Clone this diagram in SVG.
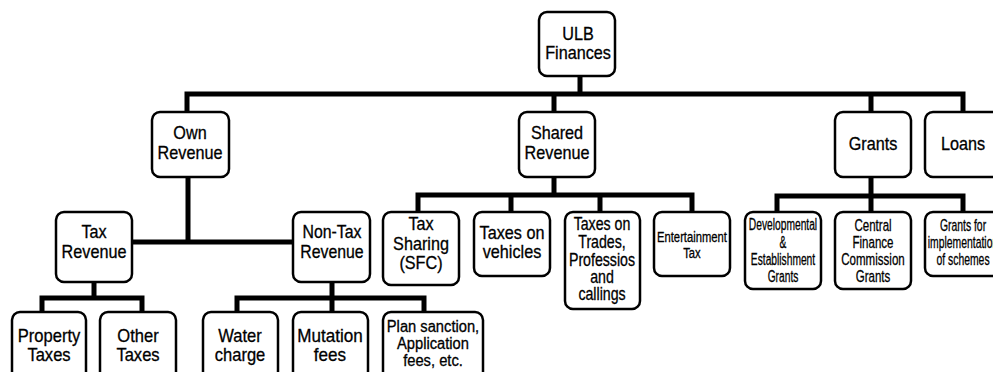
<svg xmlns="http://www.w3.org/2000/svg" width="993" height="372" viewBox="0 0 993 372">
<style>
.b{fill:#fff;stroke:#000;stroke-width:2.5}
.c{fill:none;stroke:#000;stroke-width:5;stroke-linejoin:miter}
text{font-family:"Liberation Sans",Arial,sans-serif;font-size:18px;text-anchor:middle;fill:#000;stroke:#000;stroke-width:0.3}
.m{font-size:17.5px}
.s{font-size:17px}
.xs{font-size:16px}
.t{font-size:15px}
</style>
<rect width="993" height="372" fill="#fff"/>
<g id="connectors">
<path class="c" d="M580 76V94M187 112V94H963V112M554 94V112M871 94V112"/>
<path class="c" d="M188 177V242M132 242H293"/>
<path class="c" d="M94 282V298M42 312V298H142V312"/>
<path class="c" d="M332 282V312M237 312V298H424V312"/>
<path class="c" d="M554 177V195M418 212V195H692V212M511 195V212M600 195V212"/>
<path class="c" d="M871 177V212M777 212V196H963V212"/>
</g>
<g id="ulb"><rect class="b" x="539" y="12" width="76" height="64" rx="8"/><g transform="translate(578 0) scale(0.9 1)"><text x="0" y="40">ULB</text><text x="0" y="59">Finances</text></g></g>
<g id="own"><rect class="b" x="152" y="112" width="77" height="65" rx="8"/><g transform="translate(190 0) scale(0.9 1)"><text x="0" y="139">Own</text><text x="0" y="159">Revenue</text></g></g>
<g id="shared"><rect class="b" x="519" y="112" width="76" height="65" rx="8"/><g transform="translate(557 0) scale(0.9 1)"><text x="0" y="139">Shared</text><text x="0" y="159">Revenue</text></g></g>
<g id="grants"><rect class="b" x="835" y="112" width="76" height="65" rx="8"/><g transform="translate(873 0) scale(0.9 1)"><text x="0" y="150">Grants</text></g></g>
<g id="loans"><rect class="b" x="925" y="112" width="76" height="65" rx="8"/><g transform="translate(963 0) scale(0.9 1)"><text x="0" y="150">Loans</text></g></g>
<g id="taxrev"><rect class="b" x="56" y="212" width="76" height="70" rx="8"/><g transform="translate(94 0) scale(0.9 1)"><text x="0" y="238">Tax</text><text x="0" y="258">Revenue</text></g></g>
<g id="nontax"><rect class="b" x="293" y="212" width="77" height="70" rx="8"/><g transform="translate(332 0) scale(0.88 1)"><text x="0" y="238">Non-Tax</text><text x="0" y="258">Revenue</text></g></g>
<g id="taxsharing"><rect class="b" x="383" y="212" width="76" height="73" rx="8"/><g transform="translate(421 0) scale(0.9 1)"><text x="0" y="230">Tax</text><text x="0" y="250">Sharing</text><text x="0" y="269">(SFC)</text></g></g>
<g id="vehicles"><rect class="b" x="474" y="212" width="76" height="64" rx="8"/><g transform="translate(512 0) scale(0.9 1)"><text x="0" y="239">Taxes on</text><text x="0" y="258">vehicles</text></g></g>
<g id="trades"><rect class="b" x="565" y="212" width="75" height="97" rx="8"/><g transform="translate(602 0) scale(0.81 1)"><text class="m" x="0" y="230">Taxes on</text><text class="m" x="0" y="248">Trades,</text><text class="m" x="0" y="266">Professios</text><text class="m" x="0" y="283">and</text><text class="m" x="0" y="300">callings</text></g></g>
<g id="entertainment"><rect class="b" x="654" y="212" width="76" height="64" rx="8"/><g transform="translate(692 0) scale(0.75 1)"><text class="t" x="0" y="242">Entertainment</text><text class="t" x="0" y="258">Tax</text></g></g>
<g id="developmental"><rect class="b" x="745" y="212" width="76" height="77" rx="8"/><g transform="translate(783 0) scale(0.64 1)"><text class="xs" x="0" y="230">Developmental</text><text class="xs" x="0" y="248">&amp;</text><text class="xs" x="0" y="265">Establishment</text><text class="xs" x="0" y="282">Grants</text></g></g>
<g id="cfc"><rect class="b" x="835" y="212" width="76" height="77" rx="8"/><g transform="translate(873 0) scale(0.68 1)"><text class="s" x="0" y="231">Central</text><text class="s" x="0" y="248">Finance</text><text class="s" x="0" y="265">Commission</text><text class="s" x="0" y="282">Grants</text></g></g>
<g id="schemes"><rect class="b" x="925" y="212" width="76" height="64" rx="8"/><g transform="translate(963 0) scale(0.65 1)"><text class="xs" x="0" y="231">Grants for</text><text class="xs" x="0" y="248">implementation</text><text class="xs" x="0" y="265">of schemes</text></g></g>
<g id="property"><rect class="b" x="12" y="312" width="74" height="72" rx="8"/><g transform="translate(49 0) scale(0.92 1)"><text x="0" y="342">Property</text><text x="0" y="361">Taxes</text></g></g>
<g id="other"><rect class="b" x="100" y="312" width="76" height="72" rx="8"/><g transform="translate(138 0) scale(0.92 1)"><text x="0" y="342">Other</text><text x="0" y="361">Taxes</text></g></g>
<g id="water"><rect class="b" x="203" y="312" width="75" height="72" rx="8"/><g transform="translate(240 0) scale(0.92 1)"><text x="0" y="342">Water</text><text x="0" y="361">charge</text></g></g>
<g id="mutation"><rect class="b" x="293" y="312" width="75" height="72" rx="8"/><g transform="translate(330 0) scale(0.95 1)"><text x="0" y="342">Mutation</text><text x="0" y="361">fees</text></g></g>
<g id="plan"><rect class="b" x="383" y="312" width="100" height="72" rx="8"/><g transform="translate(433 0) scale(0.92 1)"><text class="xs" x="0" y="332">Plan sanction,</text><text class="xs" x="0" y="349">Application</text><text class="xs" x="0" y="366">fees, etc.</text></g></g>
</svg>
